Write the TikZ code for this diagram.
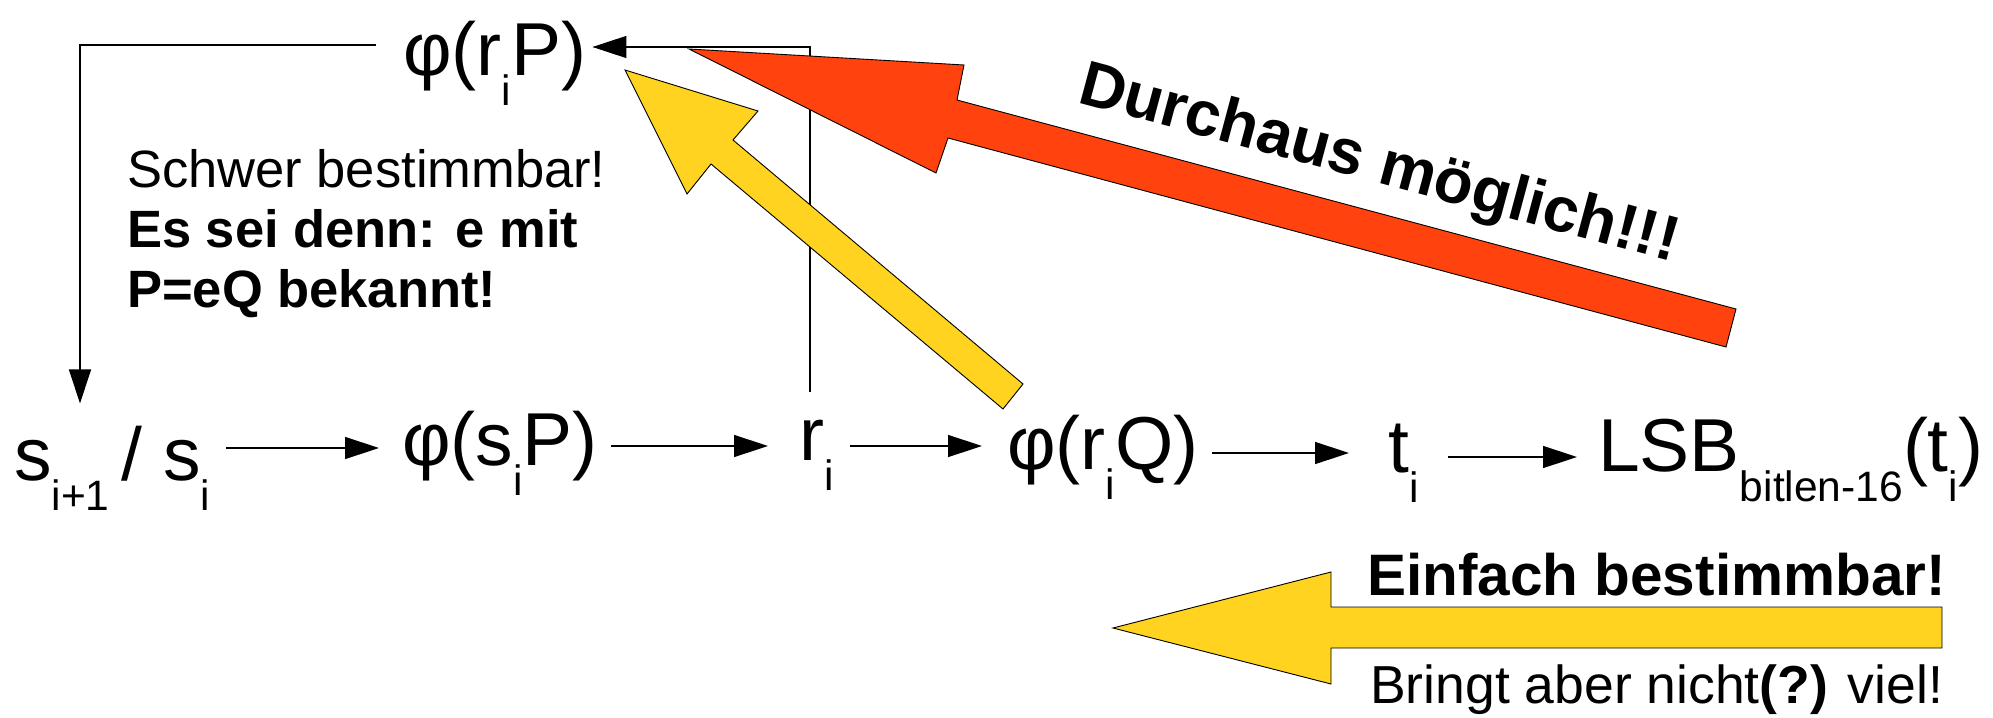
\documentclass[tikz,border=0pt]{standalone}
\usepackage{fontspec}
\setmainfont{Liberation Sans}
\usetikzlibrary{arrows.meta,calc}
\newcommand{\sbs}[1]{\raisebox{-30pt}{\fontsize{42.5}{42}\selectfont #1}}
\definecolor{redarr}{HTML}{FF420E}
\definecolor{yelarr}{HTML}{FFD320}
\begin{document}
\begin{tikzpicture}[x=1pt,y=-1pt,
  conn/.style={line width=1.4pt, -{Triangle[length=34pt,width=22pt]}},
  big/.style={inner sep=0pt, anchor=base west, font=\fontsize{75}{80}\selectfont},
  mid/.style={inner sep=0pt, anchor=base west, font=\fontsize{52.5}{60}\selectfont},
  midb/.style={inner sep=0pt, anchor=base west, font=\fontsize{52.5}{60}\selectfont\bfseries},
  blockarrow/.style={draw=black, line width=0.9pt, line join=miter}]
\useasboundingbox (0,0) rectangle (1993,717);

% formula nodes
\node[big] (phirp) at (403,75) {φ(r\sbs{i}P)};
\node[big] (s1) at (14,480) {s\sbs{i+1}\hspace{12pt}/ s\sbs{i}};
\node[big] (phisp) at (402,465) {φ(s\sbs{i}P)};
\node[big] (ri) at (799,460) {r\sbs{i}};
\node[big] (phirq) at (1007,469) {φ(r\sbs{i}Q)};
\node[big] (ti) at (1388,472) {t\sbs{i}};
\node[big] (lsb) at (1598,471) {LSB\sbs{bitlen-16}(t\sbs{i})};

% helper levels
\coordinate (yA) at (0,448);
\coordinate (yB) at (0,446);
\coordinate (yC) at (0,453);
\coordinate (yD) at (0,457);
\coordinate (yTop) at (0,47);
\coordinate (yTopL) at (0,45);
\coordinate (xR) at (810,0);
\coordinate (xL) at (80,0);

% connectors
\draw[conn] ($(s1.east |- yA)+(16,0)$) -- ($(phisp.west |- yA)+(-23,0)$);
\draw[conn] ($(phisp.east |- yB)+(13,0)$) -- ($(ri.west |- yB)+(-31,0)$);
\draw[conn] ($(ri.east |- yB)+(16,0)$) -- ($(phirq.west |- yB)+(-25,0)$);
\draw[conn] ($(phirq.east |- yC)+(13,0)$) -- ($(ti.west |- yC)+(-39,0)$);
\draw[conn] ($(ti.east |- yD)+(29,0)$) -- ($(lsb.west |- yD)+(-21,0)$);
\draw[conn] ($(xR |- ri.north)+(0,-27)$) -- (xR |- yTop) -- ($(phirp.east |- yTop)+(6,0)$);
\draw[conn] ($(phirp.west |- yTopL)+(-27,0)$) -| ($(xL |- s1.north)+(0,-22)$);

% block arrows
\draw[blockarrow, fill=redarr] (689,49) -- (964,65) -- (957,100) -- (1736,309) -- (1726,347) -- (948,138) -- (936,173) -- cycle;
\draw[blockarrow, fill=yelarr] (625,70) -- (758,111) -- (733,140) -- (1023,384) -- (1003,409) -- (711,164) -- (687,194) -- cycle;
\draw[blockarrow, fill=yelarr] (1113,628) -- (1331,572) -- (1331,607) -- (1942,607) -- (1942,648) -- (1331,648) -- (1331,684) -- cycle;

% texts
\node[mid] (sch1) at (127,187) {Schwer bestimmbar!};
\node[midb] (sch2) at (127,247) {Es sei denn: e mit};
\node[midb] (sch3) at (127,307) {P=eQ bekannt!};
\node[inner sep=0pt, anchor=base west, font=\fontsize{58.5}{60}\selectfont\bfseries] (einf) at (1367,595) {Einfach bestimmbar!};
\node[inner sep=0pt, anchor=base west, font=\fontsize{53.5}{60}\selectfont] (bring) at (1370,703) {Bringt aber nicht\textbf{(?)} viel!};
\node[inner sep=0pt, anchor=base west, rotate=-15, font=\fontsize{63.5}{70}\selectfont\bfseries] (durch) at (1076,102) {Durchaus möglich!!!};
\end{tikzpicture}
\end{document}
